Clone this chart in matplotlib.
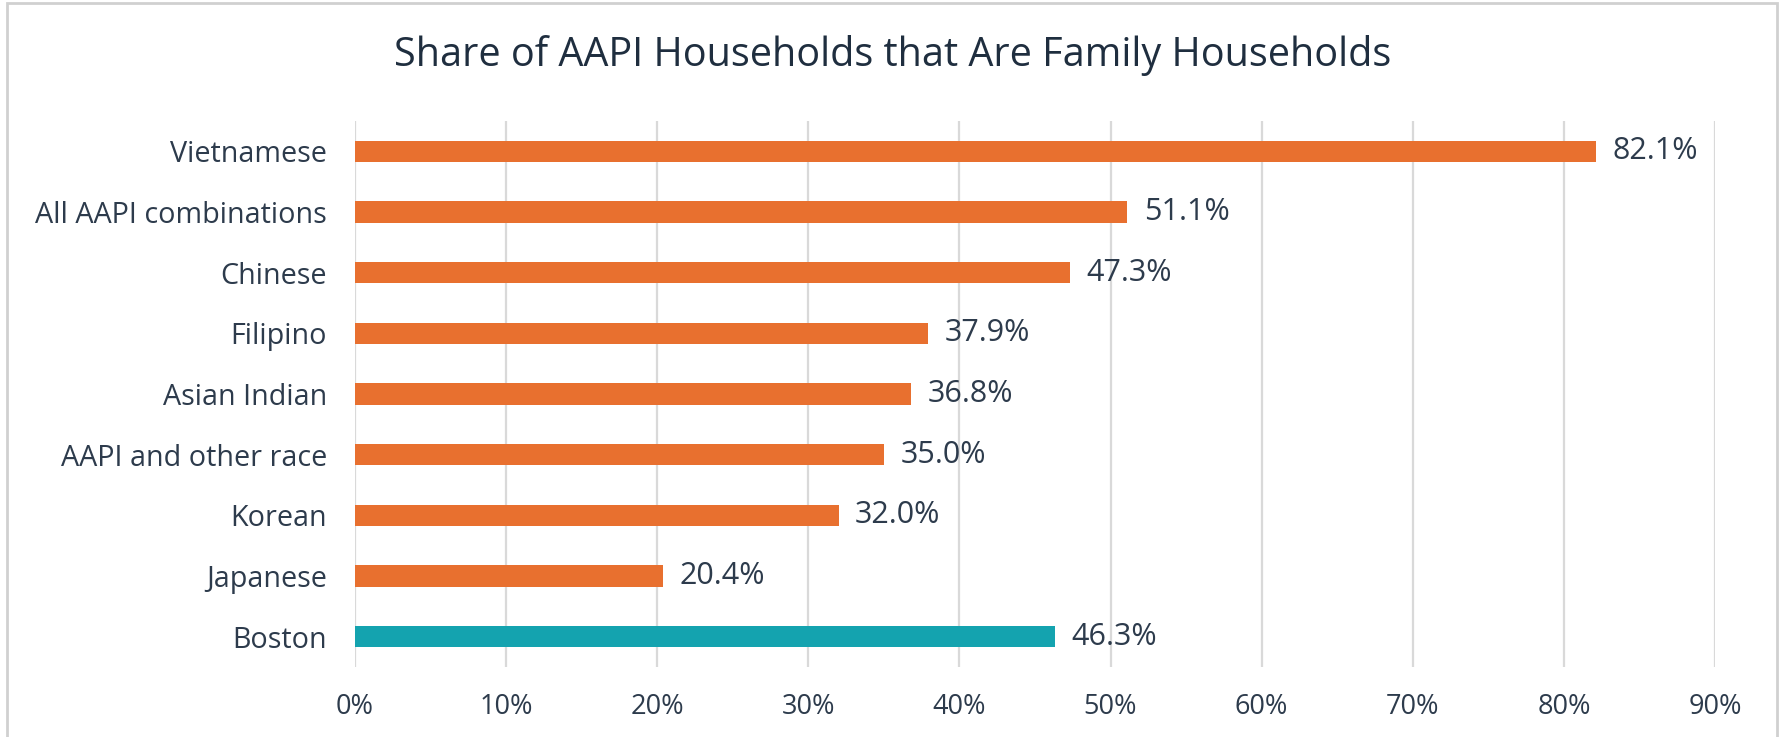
import matplotlib.pyplot as plt
from matplotlib.patches import Rectangle

# data, top to bottom as in the chart
groups = ["Vietnamese", "All AAPI combinations", "Chinese", "Filipino",
          "Asian Indian", "AAPI and other race", "Korean", "Japanese", "Boston"]
shares = [82.1, 51.1, 47.3, 37.9, 36.8, 35.0, 32.0, 20.4, 46.3]
x_ticks = [0, 10, 20, 30, 40, 50, 60, 70, 80, 90]

ORANGE = "#E8702F"
TEAL = "#14A3AF"
TEXT = "#2D3B4C"
GRID = "#D9D9D9"

plt.rcParams["font.family"] = ["Open Sans", "DejaVu Sans"]

fig = plt.figure(figsize=(17.81, 7.37), dpi=100)
ax = fig.add_axes([355 / 1781, 1 - 667 / 737, (1715 - 355) / 1781, (667 - 121) / 737])

colors = [TEAL if g == "Boston" else ORANGE for g in groups]
ypos = list(range(len(groups)))
ax.barh(ypos, shares, height=0.35, color=colors, zorder=3)

for y, v in zip(ypos, shares):
    ax.text(v + 1.1, y, f"{v:.1f}%", va="center", ha="left",
            fontsize=22, color=TEXT)

ax.set_xlim(0, 90)
ax.set_ylim(len(groups) - 0.5, -0.5)
ax.set_xticks(x_ticks)
ax.set_xticklabels([f"{t}%" for t in x_ticks])
ax.set_yticks(ypos)
ax.set_yticklabels(groups)
ax.tick_params(axis="x", length=0, labelsize=19.5, labelcolor=TEXT, pad=19)
ax.tick_params(axis="y", length=0, labelsize=20.7, labelcolor=TEXT, pad=20)
ax.grid(axis="x", color=GRID, linewidth=1.6, zorder=0)
for s in ax.spines.values():
    s.set_visible(False)

fig.text(893 / 1781, 1 - 55 / 737, "Share of AAPI Households that Are Family Households",
         ha="center", va="center", fontsize=28.5, color="#1F2E3F")

# light chart border
fig.patches.append(Rectangle((7 / 1781, -0.05), (1777 - 7) / 1781, 1.05 - 3 / 737,
                             transform=fig.transFigure, fill=False,
                             edgecolor="#D0D0D0", linewidth=2))

fig.savefig("out.png", dpi=100)
